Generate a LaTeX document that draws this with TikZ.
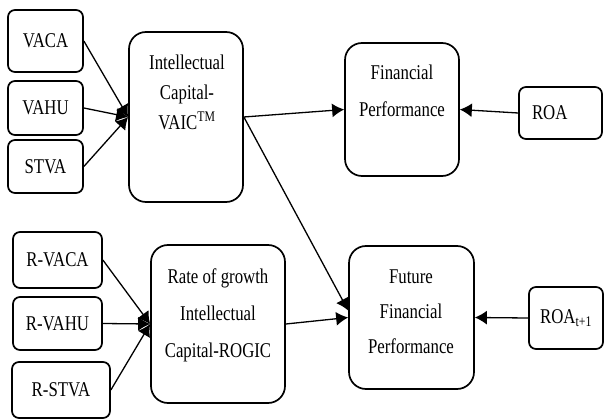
\documentclass[tikz,border=0pt]{standalone}
\usepackage{fontspec}
\setmainfont{Liberation Serif}[FakeStretch=0.8]
\usetikzlibrary{arrows.meta}

\tikzset{
  box/.style={draw, line width=1.7pt, rounded corners=7pt, inner sep=0pt, font=\fontsize{21}{26}\selectfont},
  bigbox/.style={draw, line width=1.7pt, rounded corners=17pt, inner sep=0pt},
  txt/.style={align=center, inner sep=0pt},
  arr/.style={line width=1.3pt, -{Latex[length=12pt,width=14pt]}}
}

\begin{document}
\begin{tikzpicture}[x=1pt,y=1pt]
\useasboundingbox (0,0) rectangle (604,-419);
% edit here for the small boxes
\node[box, minimum width=75pt, minimum height=62pt] (vaca) at (45.5,-41) {VACA};
\node[box, minimum width=75pt, minimum height=54pt] (vahu) at (45.5,-108) {VAHU};
\node[box, minimum width=75pt, minimum height=53pt] (stva) at (45.5,-166.5) {STVA};
\node[box, minimum width=89pt, minimum height=56pt] (rvaca) at (57.5,-260) {R-VACA};
\node[box, minimum width=89pt, minimum height=53pt] (rvahu) at (57.5,-323.5) {R-VAHU};
\node[box, minimum width=98pt, minimum height=56pt] (rstva) at (61,-390) {R-STVA};
\node[box, minimum width=83pt, minimum height=52pt, text width=57pt, align=left] (roa) at (560.5,-113) {ROA};
\node[box, minimum width=74pt, minimum height=62pt] (roat) at (566,-318) {ROA\textsubscript{t+1}};
% edit here for the big boxes
\node[bigbox, minimum width=114pt, minimum height=170pt] (ic) at (186,-117) {};
\node[bigbox, minimum width=134pt, minimum height=158pt] (rate) at (218,-324) {};
\node[bigbox, minimum width=114pt, minimum height=133pt] (fp) at (402,-109.5) {};
\node[bigbox, minimum width=125pt, minimum height=143pt] (ffp) at (411.5,-317.5) {};
\node[txt, font=\fontsize{21}{30}\selectfont] (ic-t) at (187,-92) {Intellectual\\Capital-\\VAIC\textsuperscript{TM}};
\node[txt, font=\fontsize{21}{37}\selectfont] (rate-t) at (218,-315) {Rate of growth\\Intellectual\\Capital-ROGIC};
\node[txt, font=\fontsize{21}{37}\selectfont] (fp-t) at (402,-91) {Financial\\Performance};
\node[txt, font=\fontsize{21}{35}\selectfont] (ffp-t) at (411,-312) {Future\\Financial\\Performance};
% edit here for the arrows
\foreach \s in {vaca,vahu,stva}
\draw[arr] (\s.east) -- (ic.west);
\foreach \s in {rvaca,rvahu,rstva}
\draw[arr] (\s.east) -- (rate.west);
\draw[arr] (ic.east) -- (fp.west);
\draw[arr] (ic.east) -- ([yshift=7pt]ffp.west);
\draw[arr] (rate.east) -- (ffp.west);
\draw[arr] (roa.west) -- (fp.east);
\draw[arr] (roat.west) -- (ffp.east);
\end{tikzpicture}
\end{document}
